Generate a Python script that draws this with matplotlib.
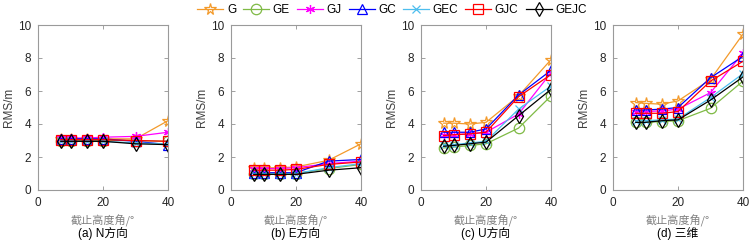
import numpy as np
import matplotlib
matplotlib.use("Agg")
import matplotlib.pyplot as plt

plt.rcParams['font.family'] = ['Liberation Sans', 'Noto Sans CJK SC', 'DejaVu Sans']

elev = [7, 10, 15, 20, 30, 40]
names = ["G", "GE", "GJ", "GC", "GEC", "GJC", "GEJC"]

# RMS values (m) per panel, order follows names
N_rms = [
    [3.10, 3.10, 3.10, 3.10, 3.10, 4.20],
    [3.00, 3.00, 3.00, 3.00, 3.00, 2.95],
    [3.15, 3.15, 3.15, 3.20, 3.25, 3.50],
    [3.10, 3.10, 3.10, 3.10, 2.95, 2.75],
    [2.95, 2.95, 2.95, 2.95, 2.85, 2.80],
    [3.05, 3.05, 3.05, 3.05, 3.00, 2.95],
    [2.95, 2.95, 2.95, 2.95, 2.80, 2.75],
]
E_rms = [
    [1.35, 1.35, 1.35, 1.40, 1.80, 2.80],
    [1.00, 1.00, 1.00, 1.00, 1.30, 1.55],
    [1.30, 1.30, 1.30, 1.35, 1.60, 1.75],
    [1.05, 1.05, 1.05, 1.05, 1.75, 1.85],
    [1.00, 1.00, 1.00, 1.00, 1.35, 1.60],
    [1.20, 1.20, 1.20, 1.25, 1.55, 1.70],
    [0.95, 0.95, 0.95, 0.95, 1.20, 1.35],
]
U_rms = [
    [4.05, 4.05, 4.00, 4.10, 5.70, 7.90],
    [2.55, 2.60, 2.70, 2.80, 3.75, 5.70],
    [3.35, 3.35, 3.40, 3.50, 4.60, 7.10],
    [3.50, 3.50, 3.50, 3.70, 5.75, 7.25],
    [2.70, 2.75, 2.85, 2.95, 4.90, 6.30],
    [3.30, 3.35, 3.40, 3.50, 5.65, 7.00],
    [2.65, 2.70, 2.80, 2.90, 4.50, 6.10],
]
D3_rms = [
    [5.30, 5.25, 5.20, 5.40, 6.70, 9.45],
    [4.10, 4.10, 4.15, 4.20, 4.95, 6.60],
    [4.75, 4.75, 4.80, 4.90, 5.90, 8.30],
    [4.85, 4.85, 4.90, 5.00, 6.80, 8.10],
    [4.20, 4.20, 4.25, 4.30, 5.60, 7.05],
    [4.65, 4.65, 4.65, 4.75, 6.60, 7.80],
    [4.10, 4.10, 4.20, 4.25, 5.45, 6.85],
]
panels = [N_rms, E_rms, U_rms, D3_rms]
subtitles = ["(a) N方向", "(b) E方向", "(c) U方向", "(d) 三维"]

colors = ["#f39a2b", "#7fba45", "#ff00ff", "#0000ff", "#4dbeee", "#ff0000", "#000000"]
markers = ["*", "o", (6, 2, 0), "^", "x", "s", "d"]
msizes = [8.5, 7.5, 6.5, 7.5, 6, 6.5, 7.5]

W, H = 751, 246
fig = plt.figure(figsize=(W / 100, H / 100), dpi=100)
lefts = [38, 231, 421, 613]
handles = []
for k, data in enumerate(panels):
    ax = fig.add_axes([lefts[k] / W, 56 / H, 130 / W, 165 / H])
    for i in range(len(names)):
        h, = ax.plot(elev, data[i], color=colors[i], marker=markers[i],
                     ms=msizes[i], mfc='none', mec=colors[i], mew=0.9, lw=0.9,
                     label=names[i])
        if k == 0:
            handles.append(h)
    ax.set_xlim(0, 40)
    ax.set_ylim(0, 10)
    ax.set_xticks([0, 20, 40])
    ax.set_yticks([0, 2, 4, 6, 8, 10])
    ax.tick_params(direction='in', top=True, right=True, length=3, width=0.6,
                   labelsize=8.5, colors='#909090', labelcolor='#262626', pad=5)
    for s in ax.spines.values():
        s.set_color('#9a9a9a')
        s.set_linewidth(0.8)
    ax.set_ylabel("RMS/m", fontsize=8.5, color='#404040', labelpad=2)
    cx = (lefts[k] + 65) / W
    fig.text(cx, 1 - 221 / H, "截止高度角/°", ha='center', va='center',
             fontsize=8, color='#808080', family=['Noto Sans CJK SC', 'DejaVu Sans'])
    fig.text(cx, 1 - 234 / H, subtitles[k], ha='center', va='center',
             fontsize=8.5, color='black',
             family=['Liberation Sans', 'Noto Sans CJK SC'])

fig.legend(handles=handles, loc='center', bbox_to_anchor=(392 / W, 1 - 10 / H),
           ncol=7, frameon=False, fontsize=8.5, handlelength=2.2,
           handletextpad=0.3, columnspacing=0.6, borderpad=0)

fig.savefig("out.png", dpi=100)
